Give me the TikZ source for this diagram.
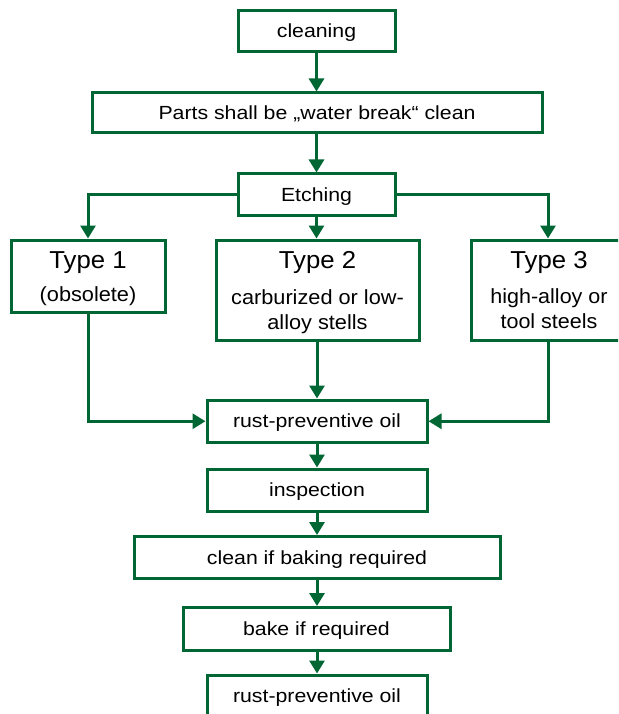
\documentclass[tikz,border=0pt]{standalone}
\usepackage{fontspec}
\setmainfont{Liberation Sans}
\usepackage{graphicx}
\usetikzlibrary{arrows.meta}
\definecolor{grn}{RGB}{0,102,51}
\newcommand{\hs}[2]{\scalebox{#1}[1]{#2}}
\begin{document}
\begin{tikzpicture}[x=1pt,y=-1pt,
  box/.style={draw=grn, line width=3pt, inner sep=0pt, rectangle},
  flow/.style={draw=grn, line width=3pt, -{Triangle[width=15pt,length=13pt]}},
  mainlbl/.style={font=\fontsize{19}{21}\selectfont, text height=13pt, text depth=0pt},
  typelbl/.style={anchor=base, font=\fontsize{24.5}{27}\selectfont, inner sep=0pt},
  sublbl/.style={anchor=base, font=\fontsize{20.5}{23}\selectfont, inner sep=0pt}
]
\useasboundingbox (0,0) rectangle (618,714);
\fill[white] (0,0) rectangle (618,714);
\clip (0,0) rectangle (618,714);

% boxes
\node[box, mainlbl, minimum width=157pt, minimum height=41pt] (clean0) at (316.5,31.5) {\hs{1.12}{cleaning}};
\node[box, mainlbl, minimum width=450pt, minimum height=40pt] (parts) at (317,113) {\hs{1.12}{Parts shall be „water break“ clean}};
\node[box, mainlbl, minimum width=157pt, minimum height=41pt] (etch) at (316.5,194.5) {\hs{1.12}{Etching}};

\node[box, minimum width=154pt, minimum height=72.5pt] (t1) at (88,276.25) {};
\node[box, minimum width=203pt, minimum height=100.5pt] (t2) at (317.5,290.25) {};
\node[box, minimum width=154pt, minimum height=100.5pt] (t3) at (548,290.25) {};

\node[typelbl] (t1a) at (88,268) {\hs{1.05}{Type 1}};
\node[sublbl] (t1b) at (88,301) {\hs{1.06}{(obsolete)}};
\node[typelbl] (t2a) at (317.5,268) {\hs{1.05}{Type 2}};
\node[sublbl] (t2b) at (317.5,304) {\hs{1.06}{carburized or low-}};
\node[sublbl] (t2c) at (317.5,329) {\hs{1.06}{alloy stells}};
\node[typelbl] (t3a) at (549,268) {\hs{1.05}{Type 3}};
\node[sublbl] (t3b) at (549,303.5) {\hs{1.05}{high-alloy or}};
\node[sublbl] (t3c) at (549,328.5) {\hs{1.05}{tool steels}};

\node[box, mainlbl, minimum width=220pt, minimum height=42.5pt] (rust1) at (317,421.25) {\hs{1.12}{rust-preventive oil}};
\node[box, mainlbl, minimum width=220pt, minimum height=42.5pt] (insp) at (317,490.25) {\hs{1.12}{inspection}};
\node[box, mainlbl, minimum width=366pt, minimum height=42pt] (cleanb) at (317,557.5) {\hs{1.12}{clean if baking required}};
\node[box, mainlbl, minimum width=267pt, minimum height=42.5pt] (bake) at (316.5,628.75) {\hs{1.12}{bake if required}};
\node[box, mainlbl, minimum width=220pt, minimum height=42.5pt] (rust2) at (317,696.25) {\hs{1.12}{rust-preventive oil}};

% connectors
\draw[flow] (clean0.south) -- (parts.north -| clean0.south);
\draw[flow] (parts.south -| etch.south) -- (etch.north);
\draw[flow] (etch.west) -| (t1.north);
\draw[flow] (etch.east) -| (t3.north);
\draw[flow] (etch.south) -- (etch.south |- t2.north);
\draw[flow] (t1.south) |- (rust1.west);
\draw[flow] (t3.south) |- (rust1.east);
\draw[flow] (t2.south -| rust1.north) -- (rust1.north);
\draw[flow] (rust1.south) -- (insp.north);
\draw[flow] (insp.south) -- (cleanb.north);
\draw[flow] (cleanb.south) -- (cleanb.south |- bake.north);
\draw[flow] (bake.south -| rust2.north) -- (rust2.north);
\end{tikzpicture}
\end{document}
